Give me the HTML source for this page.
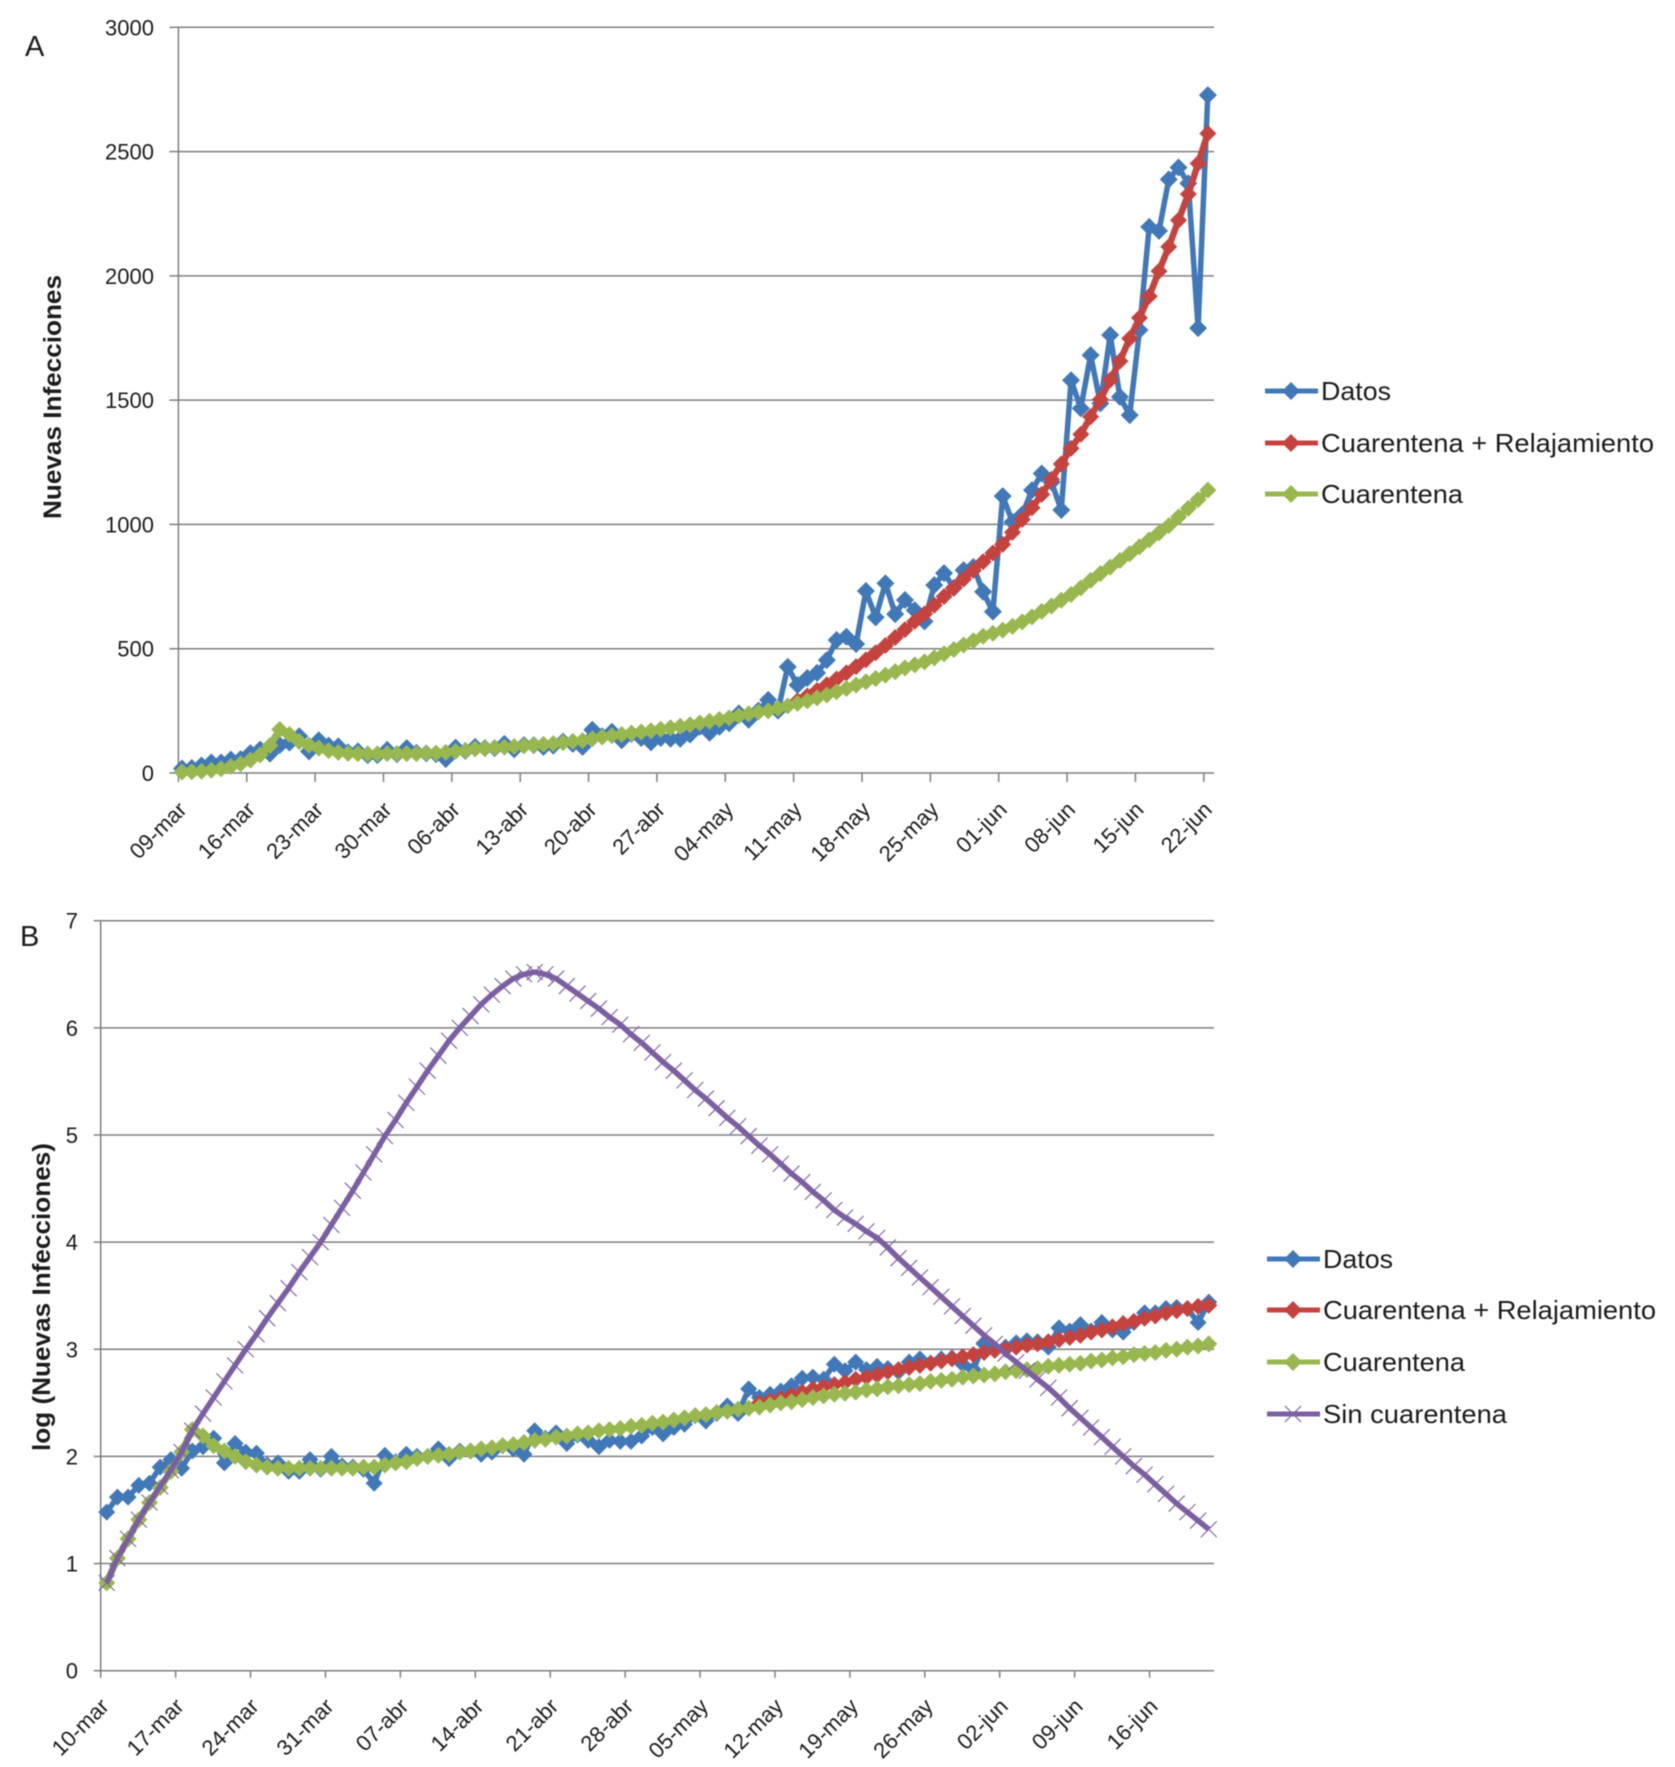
<!DOCTYPE html>
<html lang="es">
<head>
<meta charset="utf-8">
<title>Nuevas Infecciones</title>
<style>
html,body{margin:0;padding:0;background:#fff}
svg{display:block;filter:blur(0.45px)}
text{font-family:"Liberation Sans",sans-serif;fill:#1c1c1c}
</style>
</head>
<body>
<svg id="figure" xmlns="http://www.w3.org/2000/svg" width="1675" height="1767" viewBox="0 0 1675 1767">
  <rect width="1675" height="1767" fill="#fff"/>
  <text x="25" y="56" font-size="29">A</text>
  <text x="20" y="946" font-size="29">B</text>

  <g id="chartA"></g>
  <g id="chartB"></g>

  <text transform="translate(61,397) rotate(-90)" text-anchor="middle" font-size="25" font-weight="bold" textLength="244" lengthAdjust="spacingAndGlyphs">Nuevas Infecciones</text>
  <text transform="translate(50,1297) rotate(-90)" text-anchor="middle" font-size="25" font-weight="bold" textLength="308" lengthAdjust="spacingAndGlyphs">log (Nuevas Infecciones)</text>

  <g>
    <g>
      <line x1="1265" x2="1318" y1="391" y2="391" stroke="#4178b8" stroke-width="5"/>
      <polygon points="1291,382 1300,391 1291,400 1282,391" fill="#4178b8"/>
      <text x="1321" y="400" font-size="26" textLength="70" lengthAdjust="spacingAndGlyphs">Datos</text>
    </g>
    <g>
      <line x1="1265" x2="1318" y1="443" y2="443" stroke="#c5433f" stroke-width="5"/>
      <polygon points="1291,434 1300,443 1291,452 1282,443" fill="#c5433f"/>
      <text x="1321" y="452" font-size="26" textLength="333" lengthAdjust="spacingAndGlyphs">Cuarentena + Relajamiento</text>
    </g>
    <g>
      <line x1="1265" x2="1318" y1="494" y2="494" stroke="#98b84f" stroke-width="5"/>
      <polygon points="1291,485 1300,494 1291,503 1282,494" fill="#98b84f"/>
      <text x="1321" y="503" font-size="26" textLength="142" lengthAdjust="spacingAndGlyphs">Cuarentena</text>
    </g>
  </g>

  <g>
    <g>
      <line x1="1267" x2="1320" y1="1259" y2="1259" stroke="#4178b8" stroke-width="5"/>
      <polygon points="1293,1250 1302,1259 1293,1268 1284,1259" fill="#4178b8"/>
      <text x="1323" y="1268" font-size="26" textLength="70" lengthAdjust="spacingAndGlyphs">Datos</text>
    </g>
    <g>
      <line x1="1267" x2="1320" y1="1310" y2="1310" stroke="#c5433f" stroke-width="5"/>
      <polygon points="1293,1301 1302,1310 1293,1319 1284,1310" fill="#c5433f"/>
      <text x="1323" y="1319" font-size="26" textLength="333" lengthAdjust="spacingAndGlyphs">Cuarentena + Relajamiento</text>
    </g>
    <g>
      <line x1="1267" x2="1320" y1="1362" y2="1362" stroke="#98b84f" stroke-width="5"/>
      <polygon points="1293,1353 1302,1362 1293,1371 1284,1362" fill="#98b84f"/>
      <text x="1323" y="1371" font-size="26" textLength="142" lengthAdjust="spacingAndGlyphs">Cuarentena</text>
    </g>
    <g>
      <line x1="1267" x2="1320" y1="1414" y2="1414" stroke="#7c5fa2" stroke-width="5"/>
      <path d="M1285,1406 L1301,1422 M1301,1406 L1285,1422" stroke="#7c5fa2" stroke-width="1.2" fill="none"/>
      <text x="1323" y="1423" font-size="26" textLength="184" lengthAdjust="spacingAndGlyphs">Sin cuarentena</text>
    </g>
  </g>
</svg>

<script>
// ---------- Chart A data (daily, starting 09-mar) ----------
const tickLabelsA = ["09-mar","16-mar","23-mar","30-mar","06-abr","13-abr","20-abr","27-abr","04-may","11-may","18-may","25-may","01-jun","08-jun","15-jun","22-jun"];
const yTicksA = [0,500,1000,1500,2000,2500,3000];
const datosA = [18,20,30,42,42,54,56,80,94,78,112,122,148,87,132,110,107,83,87,72,72,93,76,100,81,79,76,56,102,89,105,100,100,117,95,112,112,105,110,126,117,105,174,148,166,132,158,141,123,141,138,138,155,186,162,186,200,240,214,251,294,251,427,354,382,403,454,535,548,519,732,626,763,639,696,655,610,756,804,745,816,829,729,649,1114,1010,1040,1138,1205,1170,1058,1580,1467,1681,1487,1762,1513,1440,1782,2197,2181,2388,2436,2372,1790,2727];
const relajamientoStartA = 63;
const relajamientoA = [290,310,332,355,378,403,428,455,484,513,545,577,610,640,675,710,745,780,815,850,885,920,968,1020,1067,1121,1182,1243,1306,1363,1433,1503,1581,1657,1748,1831,1918,2019,2117,2224,2329,2452,2573];
const cuarentenaA = [4,5,7,11,17,26,37,52,73,110,175,155,126,112,100,90,83,79,78,77,77,78,78,78,78,80,80,83,87,90,97,99,102,104,106,109,112,115,118,122,127,130,138,145,150,155,160,165,170,176,182,188,194,201,208,215,222,230,238,245,250,260,270,280,290,302,314,327,340,354,367,380,394,408,423,435,447,463,480,497,515,532,550,562,575,590,608,628,650,672,695,718,745,775,802,828,855,882,910,938,966,995,1030,1065,1100,1138];

// ---------- Chart B data (daily) ----------
const tickLabelsB = ["10-mar","17-mar","24-mar","31-mar","07-abr","14-abr","21-abr","28-abr","05-may","12-may","19-may","26-may","02-jun","09-jun","16-jun"];
const yTicksB = [0,1,2,3,4,5,6,7];
const datosB = [1.48,1.62,1.62,1.73,1.75,1.90,1.97,1.89,2.05,2.09,2.17,1.94,2.12,2.04,2.03,1.92,1.94,1.86,1.86,1.97,1.88,2.0,1.91,1.90,1.88,1.75,2.01,1.95,2.02,2.0,2.0,2.07,1.98,2.05,2.05,2.02,2.04,2.1,2.07,2.02,2.24,2.17,2.22,2.12,2.2,2.15,2.09,2.15,2.14,2.14,2.19,2.27,2.21,2.27,2.3,2.38,2.33,2.4,2.47,2.40,2.63,2.55,2.58,2.61,2.66,2.73,2.74,2.72,2.86,2.80,2.88,2.81,2.84,2.82,2.79,2.88,2.91,2.87,2.91,2.92,2.86,2.81,3.05,3.00,3.02,3.06,3.08,3.07,3.02,3.20,3.17,3.23,3.17,3.25,3.18,3.16,3.25,3.34,3.34,3.38,3.39,3.38,3.25,3.44];
const relajamientoStartB = 61;
const relajamientoB = [2.50,2.52,2.54,2.57,2.60,2.63,2.65,2.67,2.69,2.72,2.74,2.76,2.79,2.81,2.83,2.85,2.87,2.89,2.91,2.93,2.95,2.97,2.99,3.0,3.02,3.04,3.05,3.07,3.09,3.11,3.13,3.16,3.18,3.21,3.24,3.26,3.29,3.31,3.34,3.36,3.38,3.40,3.41];
const cuarentenaB = [0.82,1.05,1.23,1.41,1.57,1.71,1.86,2.04,2.25,2.19,2.10,2.05,2.0,1.95,1.92,1.90,1.89,1.89,1.89,1.89,1.89,1.89,1.89,1.89,1.90,1.90,1.92,1.94,1.95,1.98,2.0,2.01,2.02,2.04,2.05,2.07,2.08,2.10,2.11,2.13,2.15,2.16,2.18,2.19,2.21,2.22,2.24,2.25,2.26,2.28,2.29,2.31,2.32,2.34,2.36,2.38,2.39,2.41,2.42,2.44,2.45,2.46,2.48,2.50,2.51,2.53,2.55,2.565,2.58,2.59,2.60,2.62,2.63,2.65,2.66,2.67,2.68,2.70,2.71,2.72,2.74,2.75,2.76,2.77,2.79,2.80,2.81,2.82,2.84,2.85,2.86,2.87,2.89,2.90,2.92,2.93,2.95,2.96,2.97,2.99,3.0,3.02,3.03,3.05];
const sinCuarentenaB = [0.82,1.05,1.23,1.41,1.57,1.72,1.87,2.04,2.24,2.40,2.55,2.70,2.85,3.0,3.14,3.29,3.43,3.57,3.72,3.86,4.0,4.16,4.32,4.48,4.65,4.82,4.99,5.14,5.3,5.45,5.6,5.74,5.88,6.0,6.11,6.22,6.31,6.39,6.46,6.5,6.52,6.5,6.46,6.39,6.32,6.25,6.18,6.1,6.03,5.94,5.86,5.77,5.68,5.6,5.51,5.42,5.34,5.25,5.16,5.08,4.99,4.9,4.82,4.73,4.64,4.56,4.47,4.39,4.3,4.23,4.17,4.1,4.04,3.95,3.85,3.76,3.67,3.58,3.49,3.4,3.31,3.22,3.13,3.05,2.96,2.88,2.8,2.72,2.64,2.55,2.45,2.36,2.27,2.18,2.09,2.0,1.91,1.83,1.74,1.65,1.56,1.48,1.4,1.32];

// ---------- Axis functions ----------
const plotA = {left:178.4, right:1214, top:27.3, bottom:773, yMax:3000, labelRight:154, tickLen:9, labelDy:38, labelDx:9.5};
const plotB = {left:100.7, right:1214, top:920.7, bottom:1670.7, yMax:7, labelRight:78, tickLen:7, labelDy:37, labelDx:9.5};
function xA(i){return 182 + 9.77*i;}
function xB(i){return 106.7 + 10.7*i;}
function xTickA(k){return plotA.left + 68.36*k;}
function xTickB(k){return plotB.left + 74.92*k;}
function yA(v){return plotA.bottom - v*(plotA.bottom-plotA.top)/plotA.yMax;}
function yB(v){return plotB.bottom - v*(plotB.bottom-plotB.top)/plotB.yMax;}

const NS = "http://www.w3.org/2000/svg";
function make(parent, tag, props){
  const node = document.createElementNS(NS, tag);
  for (const k in props) node.setAttribute(k, props[k]);
  parent.appendChild(node);
  return node;
}

function drawAxes(root, plot, yTicks, yf, tickLabels, xTick){
  const gridColor = "#7f7f7f";
  yTicks.forEach(function(v){
    const y = yf(v);
    if (v !== 0) {
      const grid = make(root, "line", {x1:plot.left, x2:plot.right, y1:y, y2:y, stroke:gridColor, "stroke-width":1.5});
      
      
    }
    const tick = make(root, "line", {x1:plot.left-plot.tickLen, x2:plot.left, y1:y, y2:y, stroke:gridColor, "stroke-width":1.5});
    
    
    const label = make(root, "text", {x:plot.labelRight, y:y+8, "text-anchor":"end", "font-size":22});
    
    
    label.textContent = String(v);
  });
  const yAxis = make(root, "line", {x1:plot.left, x2:plot.left, y1:plot.top, y2:plot.bottom, stroke:gridColor, "stroke-width":1.5});
  
  
  const xAxis = make(root, "line", {x1:plot.left, x2:plot.right, y1:plot.bottom, y2:plot.bottom, stroke:gridColor, "stroke-width":1.5});
  
  
  tickLabels.forEach(function(txt, k){
    const x = xTick(k);
    const tick = make(root, "line", {x1:x, x2:x, y1:plot.bottom, y2:plot.bottom+plot.tickLen, stroke:gridColor, "stroke-width":1.5});
    
    
    const lx = x + plot.labelDx, ly = plot.bottom + plot.labelDy;
    const label = make(root, "text", {x:lx, y:ly, "text-anchor":"end", "font-size":22, transform:"rotate(-45 "+lx+" "+ly+")"});
    
    
    label.textContent = txt;
  });
}

function drawSeries(root, seriesName, values, start, xf, yf, color, kind, size, width){
  const group = make(root, "g", {});
  
  
  const pts = values.map(function(v, n){ return xf(start+n).toFixed(1)+","+yf(v).toFixed(1); }).join(" ");
  const line = make(group, "polyline", {points:pts, fill:"none", stroke:color, "stroke-width":width, "stroke-linejoin":"round"});
  
  
  values.forEach(function(v, n){
    const cx = xf(start+n), cy = yf(v);
    let mark;
    if (kind === "x") {
      mark = make(group, "path", {d:"M"+(cx-size)+","+(cy-size)+" L"+(cx+size)+","+(cy+size)+" M"+(cx+size)+","+(cy-size)+" L"+(cx-size)+","+(cy+size), stroke:color, "stroke-width":1.1, fill:"none"});
    } else {
      mark = make(group, "polygon", {points:cx+","+(cy-size)+" "+(cx+size)+","+cy+" "+cx+","+(cy+size)+" "+(cx-size)+","+cy, fill:color});
    }
    
    
  });
}

const chartA = document.getElementById("chartA");
const chartB = document.getElementById("chartB");

drawAxes(chartA, plotA, yTicksA, yA, tickLabelsA, xTickA);
drawSeries(chartA, "datos", datosA, 0, xA, yA, "#4178b8", "d", 9, 5.5);
drawSeries(chartA, "cuarentena-relajamiento", relajamientoA, relajamientoStartA, xA, yA, "#c5433f", "d", 8.5, 6.5);
drawSeries(chartA, "cuarentena", cuarentenaA, 0, xA, yA, "#98b84f", "d", 8.5, 7);

drawAxes(chartB, plotB, yTicksB, yB, tickLabelsB, xTickB);
drawSeries(chartB, "datos-log", datosB, 0, xB, yB, "#4178b8", "d", 8.5, 5.5);
drawSeries(chartB, "cuarentena-relajamiento-log", relajamientoB, relajamientoStartB, xB, yB, "#c5433f", "d", 8.5, 6.5);
drawSeries(chartB, "cuarentena-log", cuarentenaB, 0, xB, yB, "#98b84f", "d", 8.5, 7);
drawSeries(chartB, "sin-cuarentena-log", sinCuarentenaB, 0, xB, yB, "#7c5fa2", "x", 8, 5.5);
</script>
</body>
</html>
